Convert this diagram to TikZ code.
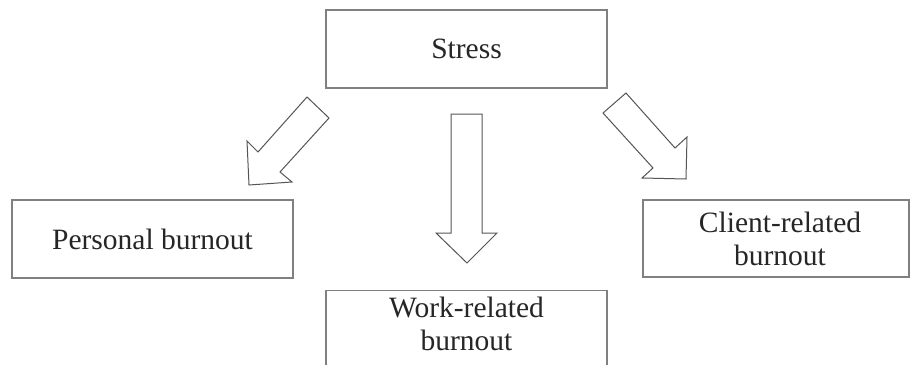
\documentclass[tikz,border=0pt]{standalone}
\usepackage{fontspec}
\setmainfont{Liberation Serif}
\definecolor{boxline}{HTML}{808080}
\definecolor{arrline}{HTML}{555555}
\definecolor{txtcol}{HTML}{262626}
\begin{document}
\begin{tikzpicture}[x=1pt,y=-1pt,
  box/.style={draw=boxline, line width=1.1pt, fill=white, inner sep=0pt, text=txtcol,
    font=\fontsize{29.5}{33}\selectfont, align=center},
  txt/.style={inner sep=0pt, text=txtcol, font=\fontsize{29.5}{33}\selectfont, align=center},
  blockarrow/.style={draw=arrline, line width=1pt, line join=miter, fill=white}]
\useasboundingbox[fill=white] (0,0) rectangle (912,364);
% boxes
\node[box, minimum width=281pt, minimum height=78pt] (stress) at (466.5,49) {Stress};
\node[box, minimum width=281pt, minimum height=78pt] (personal) at (152.5,239) {Personal burnout};
\node[box, minimum width=266pt, minimum height=77pt] (client) at (776,238.5) {};
\node[txt] (clienttext) at (780,238.5) {Client-related\\burnout};
\node[box, anchor=north, minimum width=281pt, minimum height=85pt] (work) at (466.5,290) {};
\node[txt] (worktext) at (466.5,323.5) {Work-related\\burnout};
% block arrows
\draw[blockarrow] (307,97) -- (329,118) -- (280,172) -- (292,182) -- (249,185) -- (247,141) -- (258,152) -- cycle;
\draw[blockarrow] (451,114) -- (482,114) -- (482,233) -- (497,233) -- (467,263) -- (436,233) -- (451,233) -- cycle;
\draw[blockarrow] (626,93) -- (675,148) -- (687,137) -- (686,179) -- (642,178) -- (653,168) -- (603,113) -- cycle;
\end{tikzpicture}
\end{document}
